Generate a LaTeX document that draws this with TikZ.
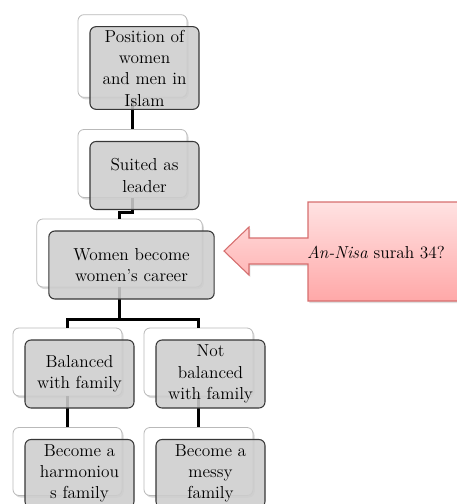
\documentclass[tikz,border=0pt]{standalone}
\usepackage{fontspec}
\usepackage{tikz}
\usetikzlibrary{positioning,shadows}
\usepackage{xcolor}
\definecolor{frontfill}{RGB}{205,205,205}
\definecolor{frontedge}{RGB}{55,55,55}
\definecolor{backedge}{RGB}{185,185,185}
\definecolor{calltop}{RGB}{255,226,226}
\definecolor{callbot}{RGB}{255,168,168}
\definecolor{calledge}{RGB}{214,110,110}

\tikzset{
  backbox/.style={draw=backedge,fill=white,rounded corners=4.5pt,line width=0.6pt,
    minimum width=81.75pt,minimum height=51pt,inner sep=0pt,
    drop shadow={shadow xshift=1.2pt,shadow yshift=-1.5pt,opacity=0.3}},
  frontbox/.style={draw=frontedge,fill=frontfill,fill opacity=0.88,text opacity=1,
    rounded corners=4.5pt,line width=0.8pt,minimum width=81.75pt,minimum height=51pt,
    inner sep=0pt,align=center,xshift=9pt,yshift=-9pt,
    font=\fontsize{13}{16}\selectfont},
  link/.style={line width=2.2pt,black}
}

\begin{document}
\begin{tikzpicture}[x=0.75pt,y=-0.75pt]
\useasboundingbox (0,0) rectangle (457,504);
\clip (0,0) rectangle (457,504);

\node[backbox,minimum height=62pt] (posb) at (132.5,56) {};
\node[backbox] (suitb) at (132.5,163.5) {};
\node[backbox,minimum width=124pt] (careerb) at (119.5,253) {};
\node[backbox] (balb) at (67.5,362) {};
\node[backbox] (notbalb) at (198.5,362) {};
\node[backbox] (harmb) at (67.5,461.5) {};
\node[backbox] (messyb) at (198.5,461.5) {};

\draw[link] (posb.south) -- (suitb.north);
\draw[link] (suitb.south) -- ++(0,15) -| (careerb.north);
\draw[link] (careerb.south) -- ++(0,32) -| (balb.north);
\draw[link] (careerb.south) -- ++(0,32) -| (notbalb.north);
\draw[link] (balb.south) -- (harmb.north);
\draw[link] (notbalb.south) -- (messyb.north);

\node[frontbox,minimum height=62pt] (pos) at (posb) {Position of\\women\\and men in\\Islam};
\node[frontbox] (suit) at (suitb) {Suited as\\leader};
\node[frontbox,minimum width=124pt] (career) at (careerb) {Women become\\women's career};
\node[frontbox] (bal) at (balb) {Balanced\\with family};
\node[frontbox] (notbal) at (notbalb) {Not\\balanced\\with family};
\node[frontbox] (harm) at (harmb) {Become a\\harmoniou\\s family};
\node[frontbox] (messy) at (messyb) {Become a\\messy\\family};

\path[top color=calltop,bottom color=callbot,draw=calledge,line width=0.8pt,
  drop shadow={shadow xshift=1pt,shadow yshift=-1.5pt,opacity=0.25}]
  (224,251) -- (249,227) -- (249,238) -- (308,238) -- (308,202) -- (470,202)
  -- (470,301) -- (308,301) -- (308,264) -- (249,264) -- (249,275) -- cycle;
\node[font=\fontsize{13}{15}\selectfont] (nisa) at (376,252) {\textit{An-Nisa} surah 34?};
\end{tikzpicture}
\end{document}
